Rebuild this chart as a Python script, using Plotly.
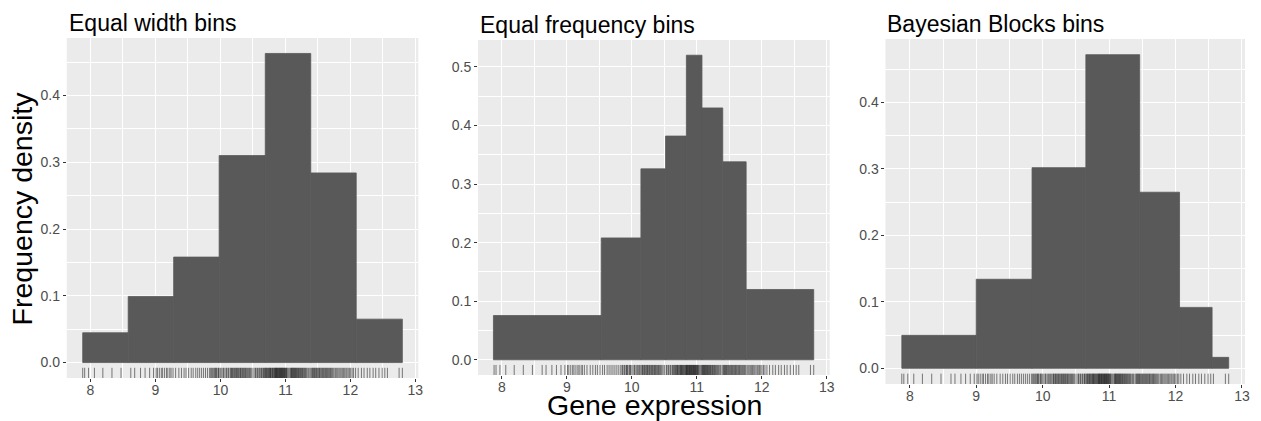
import plotly.graph_objects as go
import numpy as np

W, H = 1261, 421

# ---- data ----
titles = ["Equal width bins", "Equal frequency bins", "Bayesian Blocks bins"]

edges_width = [7.88, 8.58, 9.28, 9.98, 10.69, 11.39, 12.09, 12.80]
dens_width = [0.0446, 0.099, 0.158, 0.310, 0.463, 0.284, 0.065]

edges_freq = [7.87, 9.53, 10.14, 10.52, 10.84, 11.08, 11.40, 11.76, 12.80]
dens_freq = [0.0755, 0.208, 0.326, 0.382, 0.520, 0.430, 0.338, 0.120]

edges_bb = [7.88, 9.00, 9.84, 10.65, 11.46, 12.06, 12.55, 12.80]
dens_bb = [0.0496, 0.134, 0.302, 0.472, 0.265, 0.0917, 0.0165]

rug_values = [
    7.88, 7.91, 7.97, 8.06, 8.19, 8.33, 8.47,
    8.62, 8.68, 8.77, 8.84, 8.91, 8.97,
    9.01, 9.03, 9.06, 9.09, 9.11, 9.14, 9.17, 9.19, 9.22, 9.24, 9.27,
    9.31, 9.36, 9.40, 9.44, 9.47, 9.51,
    9.55, 9.58, 9.62, 9.65, 9.68, 9.71, 9.74, 9.77, 9.80, 9.83,
    9.85, 9.86, 9.88, 9.89, 9.91, 9.92, 9.93, 9.94, 9.96, 9.97, 9.98,
    10.00, 10.02, 10.04, 10.05, 10.07, 10.09, 10.10, 10.12, 10.13,
    10.152, 10.163, 10.171, 10.185, 10.194, 10.206, 10.218, 10.229, 10.241, 10.249,
    10.262, 10.274, 10.283, 10.297, 10.308, 10.316, 10.329, 10.342, 10.351, 10.363,
    10.374, 10.386, 10.398, 10.411, 10.423, 10.436, 10.448, 10.463, 10.481, 10.502,
    10.53, 10.54, 10.56, 10.57, 10.59, 10.60, 10.62, 10.63, 10.64,
    10.655, 10.665, 10.675, 10.685,
    10.695, 10.703, 10.711, 10.722, 10.731, 10.742, 10.749, 10.758, 10.766, 10.772,
    10.781, 10.792, 10.801, 10.808, 10.819, 10.828, 10.836,
    10.842, 10.849, 10.855, 10.863, 10.868, 10.877, 10.884, 10.889, 10.897, 10.905,
    10.911, 10.918, 10.926, 10.931, 10.939, 10.947, 10.952, 10.960, 10.966, 10.974,
    10.981, 10.988, 10.995, 11.003, 11.011, 11.018, 11.027, 11.041, 11.056, 11.072,
    11.083, 11.091, 11.098, 11.106, 11.115, 11.122, 11.131, 11.139, 11.148, 11.156,
    11.166, 11.174, 11.183, 11.193, 11.201, 11.212, 11.221, 11.232, 11.243, 11.252,
    11.263, 11.274, 11.285, 11.296, 11.308, 11.321, 11.334, 11.352, 11.367, 11.389,
    11.405, 11.415, 11.426, 11.437, 11.446, 11.457,
    11.468, 11.479, 11.491, 11.502, 11.514, 11.525, 11.536, 11.549, 11.561, 11.573,
    11.584, 11.596, 11.608, 11.619, 11.632, 11.645, 11.656, 11.668, 11.681, 11.694,
    11.707, 11.721, 11.735, 11.751,
    11.772, 11.789, 11.806, 11.824, 11.841, 11.858, 11.876, 11.893, 11.912, 11.931,
    11.947, 11.966, 11.985, 12.004, 12.027, 12.049,
    12.08, 12.12, 12.17, 12.21, 12.26, 12.30, 12.35, 12.39, 12.44, 12.49, 12.53,
    12.57, 12.75, 12.80,
]

x_tickvals = [8, 9, 10, 11, 12, 13]
y_tickvals = [0.0, 0.1, 0.2, 0.3, 0.4, 0.5]
y_ticktext = ["0.0", "0.1", "0.2", "0.3", "0.4", "0.5"]

# ---- layout geometry (pixels) ----
panels_px = [
    dict(x=(67, 420), y=(38, 378)),
    dict(x=(480, 833), y=(40, 375)),
    dict(x=(889, 1250), y=(39, 384)),
]

FONT = "Liberation Sans, Arial, sans-serif"
BAR = "#595959"

fig = go.Figure()
datasets = [(edges_width, dens_width), (edges_freq, dens_freq), (edges_bb, dens_bb)]

xmin, xmax = min(rug_values), max(rug_values)
xpad = 0.05 * (xmax - xmin)
xr = [xmin - xpad, xmax + xpad]

layout = dict(
    width=W, height=H,
    margin=dict(l=0, r=0, t=0, b=0),
    paper_bgcolor="white",
    plot_bgcolor="#EBEBEB",
    showlegend=False,
    barmode="overlay",
    font=dict(family=FONT, color="#4D4D4D"),
)

shapes = []
annotations = []
for i, ((edges, dens), p) in enumerate(zip(datasets, panels_px)):
    n = "" if i == 0 else str(i + 1)
    e = np.array(edges)
    centers = (e[:-1] + e[1:]) / 2
    widths = np.diff(e)
    fig.add_trace(go.Bar(
        x=centers, y=dens, width=widths,
        marker=dict(color=BAR, line=dict(width=0.8, color=BAR)),
        xaxis="x" + n, yaxis="y" + n, hoverinfo="skip",
    ))
    ymax = max(dens)
    yr = [-0.05 * ymax, ymax * 1.05]
    dx = [p["x"][0] / W, p["x"][1] / W]
    dy = [1 - p["y"][1] / H, 1 - p["y"][0] / H]
    common = dict(
        showgrid=True, gridcolor="white", gridwidth=1.1,
        zeroline=False, showline=False,
        ticks="outside", ticklen=3, tickwidth=1, tickcolor="#333333",
        tickfont=dict(size=14, color="#4D4D4D", family=FONT),
    )
    layout["xaxis" + n] = dict(
        domain=dx, range=xr, anchor="y" + n,
        tickvals=x_tickvals, ticktext=[str(v) for v in x_tickvals],
        ticklabelstandoff=-4,
        minor=dict(showgrid=True, gridcolor="white", gridwidth=0.5, dtick=0.5, tick0=7.5),
        **common,
    )
    layout["yaxis" + n] = dict(
        domain=dy, range=yr, anchor="x" + n,
        tickvals=y_tickvals, ticktext=y_ticktext,
        minor=dict(showgrid=True, gridcolor="white", gridwidth=0.5, dtick=0.05, tick0=0.05),
        **common,
    )
    for v in rug_values:
        shapes.append(dict(
            type="line", xref="x" + n, yref="y" + n + " domain",
            x0=v, x1=v, y0=0, y1=0.03,
            line=dict(color="rgba(0,0,0,0.5)", width=1),
            layer="above",
        ))
    annotations.append(dict(
        text=titles[i], xref="x" + n + " domain", yref="y" + n + " domain",
        x=0, y=1, xanchor="left", yanchor="bottom", yshift=0,
        showarrow=False, font=dict(size=23, color="black", family=FONT),
    ))

annotations.append(dict(
    text="Frequency density", xref="paper", yref="paper",
    x=22.5 / W, y=1 - 208 / H, xanchor="center", yanchor="middle",
    textangle=-90, showarrow=False, font=dict(size=28.5, color="black", family=FONT),
))
annotations.append(dict(
    text="Gene expression", xref="paper", yref="paper",
    x=657 / W, y=0, xanchor="center", yanchor="bottom", yshift=-2,
    showarrow=False, font=dict(size=28.5, color="black", family=FONT),
))

layout["shapes"] = shapes
layout["annotations"] = annotations
fig.update_layout(**layout)
fig.write_html("out.html")
